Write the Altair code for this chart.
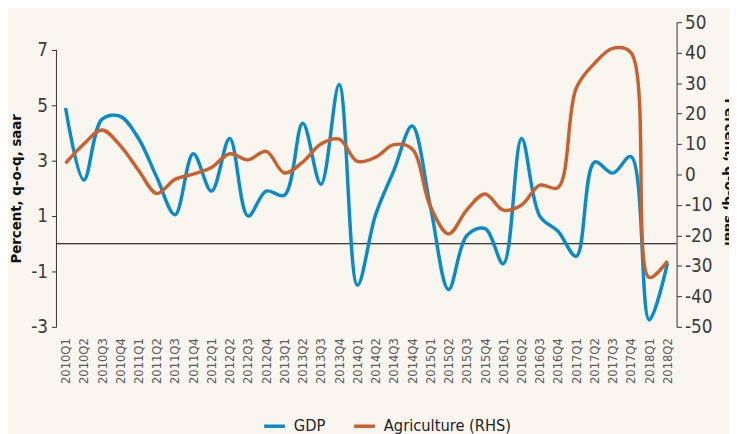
import altair as alt
import pandas as pd

quarters = ["2010Q1", "2010Q2", "2010Q3", "2010Q4", "2011Q1", "2011Q2", "2011Q3", "2011Q4",
            "2012Q1", "2012Q2", "2012Q3", "2012Q4", "2013Q1", "2013Q2", "2013Q3", "2013Q4",
            "2014Q1", "2014Q2", "2014Q3", "2014Q4", "2015Q1", "2015Q2", "2015Q3", "2015Q4",
            "2016Q1", "2016Q2", "2016Q3", "2016Q4", "2017Q1", "2017Q2", "2017Q3", "2017Q4",
            "2018Q1", "2018Q2"]
gdp = [4.9, 2.3, 4.5, 4.6, 3.8, 2.4, 1.05, 3.25, 1.9, 3.8, 1.0, 1.9, 1.75, 4.35, 2.15, 5.75,
       -1.5, 1.05, 2.65, 4.25, 1.35, -1.65, 0.3, 0.55, -0.72, 3.8, 1.0, 0.45, -0.45, 2.95, 2.55, 3.15,
       -2.75, -0.7]
agri = [3.7, 10.0, 14.6, 9.5, 1.4, -6.2, -1.6, 0.1, 2.3, 6.8, 4.8, 7.6, 0.5, 4.1, 10.0, 11.6,
        4.3, 5.7, 9.8, 8.4, -10.5, -19.5, -11.6, -6.4, -11.7, -10.0, -3.5, -4.3, 28.4, 36.5, 41.4, 40.0,
        -33.8, -28.4]
series_names = ["GDP", "Agriculture (RHS)"]
series_colors = ["#0a8bc9", "#c9602e"]
left_ticks = [-3, -1, 1, 3, 5, 7]
right_ticks = [-50, -40, -30, -20, -10, 0, 10, 20, 30, 40, 50]

df = pd.DataFrame({"q": quarters, "gdp": gdp, "agri": agri})

FONT = "Liberation Sans Narrow, DejaVu Sans Condensed, sans-serif"
left_scale = alt.Scale(domain=[-3, 8], nice=False, zero=False)
right_scale = alt.Scale(domain=[-50, 50], nice=False, zero=False)
xenc = alt.X("q:O", sort=quarters, scale=alt.Scale(type="point", padding=0.5),
             axis=alt.Axis(title=None, labelAngle=-90, domain=False, ticks=False,
                           labelPadding=11, labelFontSize=13, labelColor="#5a5a5a", labelFont=FONT))
color = alt.Color("series:N", scale=alt.Scale(domain=series_names, range=series_colors),
                  legend=alt.Legend(title=None, orient="none", legendX=208, legendY=396,
                                    direction="horizontal", symbolType="stroke",
                                    symbolSize=441, symbolStrokeWidth=3.5, labelFontSize=16.5,
                                    labelFont=FONT, labelColor="#222222", columnPadding=22,
                                    labelOffset=7))

left_axis = alt.Axis(values=left_ticks, domain=False, tickSize=5, tickColor="#333333",
                     labelFontSize=19, labelFont=FONT, labelColor="#3a3a3a", labelPadding=4,
                     grid=False, title="Percent, q-o-q, saar", titleFont=FONT,
                     titleFontSize=15, titleFontWeight="bold", titleColor="#111111",
                     titleX=-41, titleY=168, titleAngle=-90, titleBaseline="middle")

base = alt.Chart(df)

gdp_line = base.transform_calculate(series="'GDP'").mark_line(
    interpolate="catmull-rom", strokeWidth=3.5).encode(
    x=xenc,
    y=alt.Y("gdp:Q", scale=left_scale, axis=left_axis),
    color=color,
)
zero_rule = alt.Chart(pd.DataFrame({"z": [0]})).mark_rule(color="#000000", strokeWidth=1.2).encode(
    y=alt.Y("z:Q", scale=left_scale, axis=left_axis))
left_axis_line = alt.Chart(pd.DataFrame({"a": [7], "b": [-3]})).mark_rule(
    color="#333333", strokeWidth=1).encode(
    x=alt.value(0), y=alt.Y("a:Q", scale=left_scale, axis=left_axis), y2="b:Q")

left = alt.layer(zero_rule, left_axis_line, gdp_line)

agri_line = base.transform_calculate(series="'Agriculture (RHS)'").mark_line(
    interpolate="catmull-rom", strokeWidth=3.5).encode(
    x=xenc,
    y=alt.Y("agri:Q", scale=right_scale,
            axis=alt.Axis(orient="right", values=right_ticks, domain=True, domainColor="#333333",
                          tickSize=5, tickColor="#333333", labelFontSize=19, labelFont=FONT,
                          labelColor="#3a3a3a", labelPadding=3, grid=False,
                          title="Percent, q-o-q, saar", titleFont=FONT, titleFontSize=15,
                          titleFontWeight="bold", titleColor="#111111", titleX=53, titleY=152,
                          titleAngle=90, titleBaseline="middle")),
    color=color,
)

chart = alt.layer(left, agri_line).resolve_scale(y="independent").properties(
    width=627, height=308,
    autosize=alt.AutoSizeParams(type="none"),
    padding={"left": 49, "top": 12, "right": 53, "bottom": 106},
    background="#f9f6f0",
).configure(
    locale=alt.Locale(number=alt.NumberLocale(decimal=".", thousands=",", grouping=[3],
                                              currency=["$", ""], minus="-"))
).configure_view(stroke=None)

chart.save("out.html", embed_options={"renderer": "svg", "actions": False})
